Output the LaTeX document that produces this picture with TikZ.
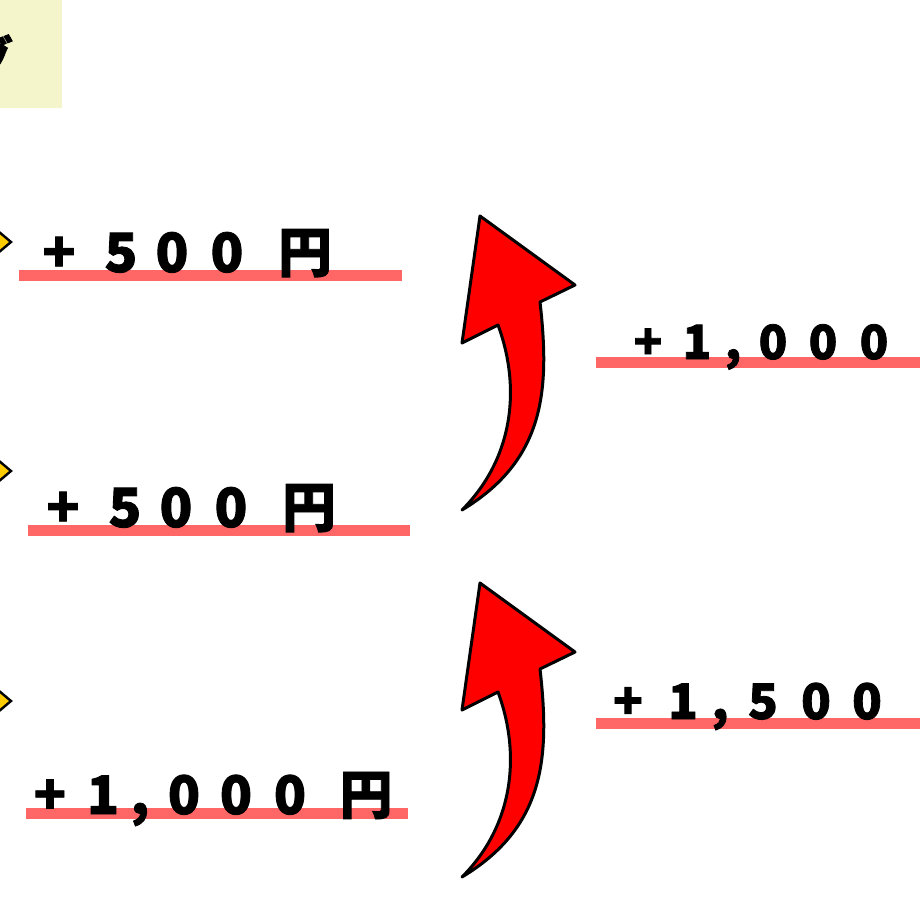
\documentclass[tikz,border=0pt]{standalone}
\usepackage{fontspec}
\newfontfamily\jp[BoldFeatures={FakeBold=1.6}]{Noto Sans CJK JP}
\definecolor{boxyellow}{RGB}{245,245,204}
\definecolor{linered}{RGB}{255,102,102}
\definecolor{tipyellow}{RGB}{255,204,0}
\definecolor{arrowred}{RGB}{255,0,0}
\tikzset{
  ch/.style={anchor=base, inner sep=0pt, font=\jp\bfseries\fontsize{#1}{#1}\selectfont},
  redline/.style={fill=linered},
  tipshape/.style={fill=tipyellow, draw=black, line width=2.4pt, line join=miter},
  curvy/.pic={
    \draw[fill=arrowred, draw=black, line width=3pt, line join=round]
      (480,216) -- (575,285) -- (540,302)
      .. controls (550,390) and (545,460) .. (462,510)
      .. controls (512,460) and (522,390) .. (498,325)
      -- (462,343) -- cycle;
  }
}
\begin{document}
\begin{tikzpicture}[x=1pt,y=-1pt]
\useasboundingbox (0,0) rectangle (920,920);
\clip (0,0) rectangle (920,920);
% title box (cut at the left edge)
\fill[boxyellow] (-10,-10) rectangle (62,108);
\node[anchor=east, inner sep=0pt, font=\jp\bfseries\fontsize{48}{48}\selectfont] (title) at (13,58) {グ};
% yellow arrow tips at the left edge
\draw[tipshape] (-8,226) -- (11,242) -- (-8,258) -- cycle;
\draw[tipshape] (-8,455) -- (11,471) -- (-8,487) -- cycle;
\draw[tipshape] (-8,685) -- (11,701) -- (-8,717) -- cycle;
% underlines
\fill[redline] (19,270) rectangle (402,281);
\fill[redline] (28,525) rectangle (410,536);
\fill[redline] (26,808) rectangle (408,819);
\fill[redline] (596,357) rectangle (925,368);
\fill[redline] (596,718) rectangle (925,729);
% left labels
\foreach \x/\c [count=\i] in {59/+,121/5,172/0,227/0,305/円}
  \node[ch=54] (la\i) at (\x,272) {\c};
\foreach \x/\c [count=\i] in {63/+,125/5,176/0,231/0,309/円}
  \node[ch=54] (lb\i) at (\x,527) {\c};
\foreach \x/\c [count=\i] in {50/+,103/1,140/{,},184/0,236/0,290/0,366/円}
  \node[ch=53] (lc\i) at (\x,814) {\c};
% right labels
\foreach \x/\c [count=\i] in {648/+,697/1,733/{,},773/0,823/0,874/0}
  \node[ch=47] (ra\i) at (\x,359) {\c};
\foreach \x/\c [count=\i] in {628/+,683/1,720/{,},763/5,816/0,867/0}
  \node[ch=49] (rb\i) at (\x,719) {\c};
% curved red arrows
\pic (arrowA) at (0,0) {curvy};
\pic (arrowB) at (0,367) {curvy};
\end{tikzpicture}
\end{document}
